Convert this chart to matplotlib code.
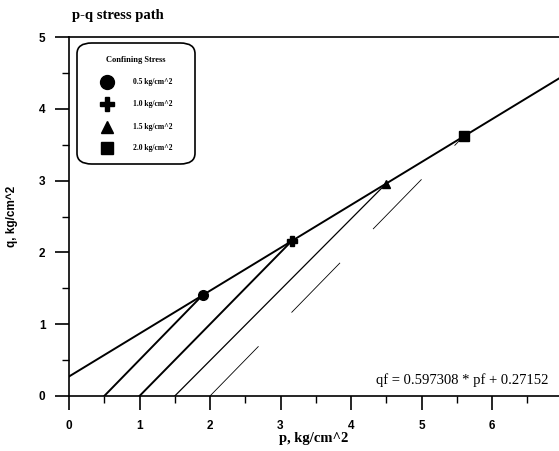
import matplotlib
matplotlib.use("Agg")
import matplotlib.pyplot as plt
import numpy as np
from matplotlib.patches import FancyBboxPatch
from matplotlib.ticker import MultipleLocator

# Confining stresses (kg/cm^2) and failure points in p-q space
confining = [0.5, 1.0, 1.5, 2.0]
p_fail = [1.90, 3.16, 4.49, 5.60]
q_fail = [1.41, 2.16, 2.95, 3.62]
labels = ["0.5 kg/cm^2", "1.0 kg/cm^2", "1.5 kg/cm^2", "2.0 kg/cm^2"]
markers = ["o", "P", "^", "s"]

# Failure envelope fit
slope = 0.597308
intercept = 0.27152

serif = ["Liberation Serif", "DejaVu Serif"]
narrow = ["Liberation Sans Narrow", "Liberation Sans", "DejaVu Sans"]

fig = plt.figure(figsize=(5.59, 4.51), dpi=100)
ax = fig.add_axes([69 / 559, 1 - 396 / 451, 490 / 559, 359 / 451])
ax.set_xlim(0, 6.95)
ax.set_ylim(0, 5)

# Failure envelope
xs = np.array([0, 6.95])
ax.plot(xs, slope * xs + intercept, color="black", lw=1.4, zorder=3)

# Stress paths from (sigma3, 0) to failure points
path_styles = [
    dict(lw=1.4, ls="-"),
    dict(lw=1.4, ls="-"),
    dict(lw=0.9, ls="-"),
    dict(lw=0.6, ls="-", dashes=(50 / 0.6, 34 / 0.6)),
]
for s3, pf, qf, st in zip(confining, p_fail, q_fail, path_styles):
    ax.plot([s3, pf], [0, qf], color="black", zorder=2, **st)

# Failure points
msizes = [7, 7, 6, 6.5]
for pf, qf, m, ms in zip(p_fail, q_fail, markers, msizes):
    ax.plot(pf, qf, marker=m, color="black", ms=ms, ls="none", zorder=4)

# Spines and ticks
ax.spines["right"].set_visible(False)
for s in ["left", "bottom", "top"]:
    ax.spines[s].set_linewidth(1.2)
ax.xaxis.set_major_locator(MultipleLocator(1))
ax.xaxis.set_minor_locator(MultipleLocator(0.5))
ax.yaxis.set_major_locator(MultipleLocator(1))
ax.yaxis.set_minor_locator(MultipleLocator(0.5))
ax.tick_params(which="major", direction="out", length=10, width=1.2, pad=7)
ax.tick_params(which="minor", direction="out", length=5, width=1.0)
ax.tick_params(top=False, right=False, which="both")
for lab in ax.get_xticklabels() + ax.get_yticklabels():
    lab.set_fontfamily(narrow)
    lab.set_fontweight("bold")
    lab.set_fontsize(8.5)

ax.set_xlabel("p, kg/cm^2", fontfamily=serif, fontsize=10.5, fontweight="bold")
ax.xaxis.set_label_coords(0.5, -0.1)
ax.set_ylabel("q, kg/cm^2", fontfamily=narrow, fontsize=8.5, fontweight="bold")
ax.yaxis.set_label_coords(-0.105, 0.5)

fig.text(72 / 559, 1 - 16 / 451, "p-q stress path", fontfamily=serif,
         fontsize=10.5, fontweight="bold", ha="left", va="center")

ax.text((548 - 69) / 490, (396 - 380) / 359,
        f"qf = {slope} * pf + {intercept}", transform=ax.transAxes,
        fontfamily=serif, fontsize=10.5, ha="right", va="center")

# Legend box
def ax_xy(px, py):
    return (px - 69) / 490, (396 - py) / 359

x0, y0 = ax_xy(77, 164)
x1, y1 = ax_xy(195, 43)
box = FancyBboxPatch((x0, y0), x1 - x0, y1 - y0,
                     boxstyle="round,pad=0,rounding_size=0.03",
                     transform=ax.transAxes, facecolor="white",
                     edgecolor="black", lw=1.2, zorder=5, clip_on=False)
ax.add_patch(box)
tx, ty = ax_xy(136, 60)
ax.text(tx, ty, "Confining Stress", transform=ax.transAxes, fontfamily=serif,
        fontsize=6, fontweight="bold", ha="center", va="center", zorder=6)
rows_py = [82, 104, 127, 148]
leg_ms = [10, 10, 9, 9]
for py, m, lab, ms in zip(rows_py, markers, labels, leg_ms):
    mx, my = ax_xy(107, py)
    ax.plot(mx, my, marker=m, color="black", ms=ms, ls="none",
            transform=ax.transAxes, clip_on=False, zorder=6)
    lx, ly = ax_xy(133, py)
    ax.text(lx, ly, lab, transform=ax.transAxes, fontfamily=serif,
            fontsize=5.5, fontweight="bold", ha="left", va="center", zorder=6)

fig.savefig("out.png", dpi=100)
